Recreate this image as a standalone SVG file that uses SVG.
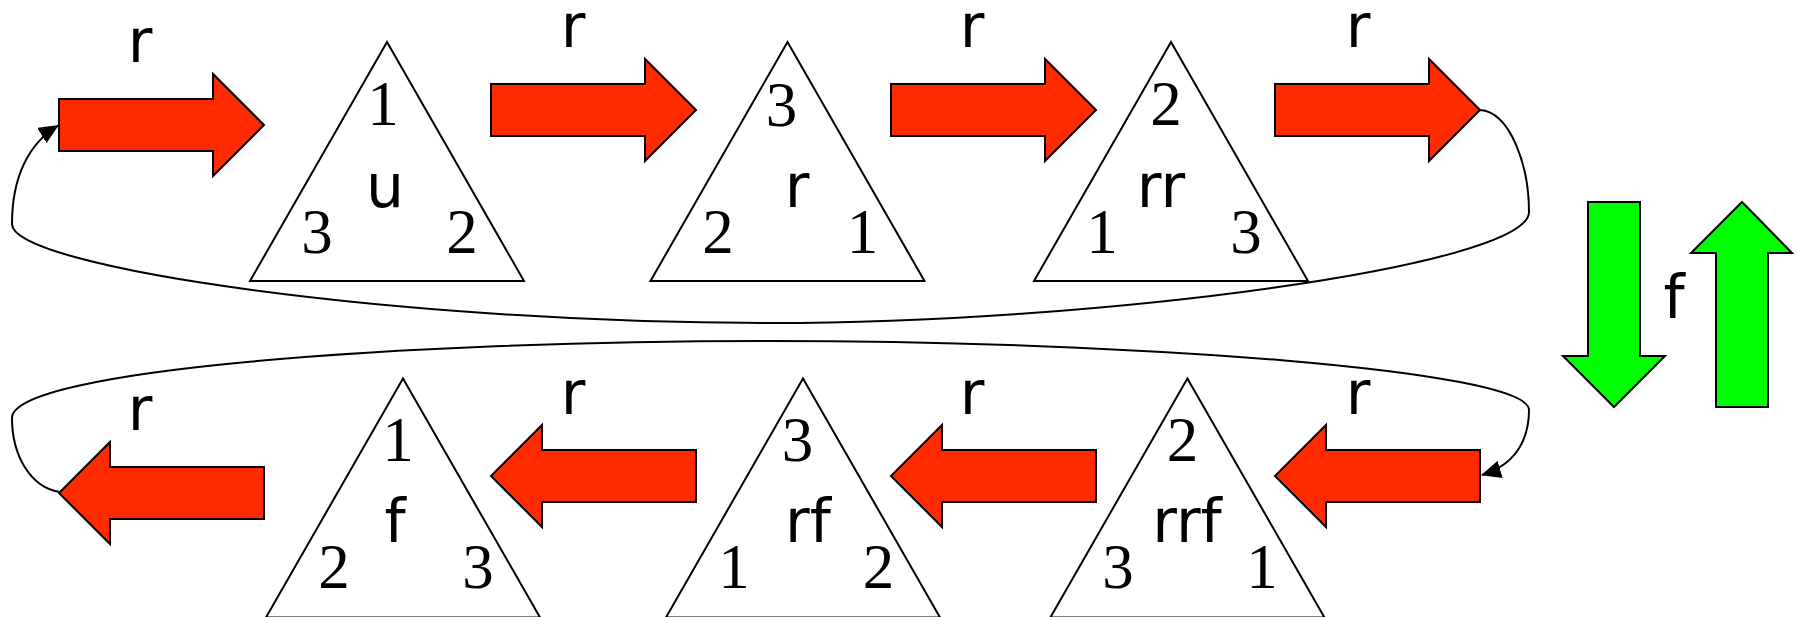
<svg xmlns="http://www.w3.org/2000/svg" width="1798" height="617" viewBox="0 0 1798 617">
<style>
.tri{fill:#fff;stroke:#000;stroke-width:2}
.num{font-family:"Liberation Serif","Times New Roman",serif;font-size:63px;fill:#000;text-anchor:middle}
.lab{font-family:"DejaVu Sans","Liberation Sans",sans-serif;font-size:60px;fill:#000;text-anchor:middle}
.red{fill:#FF2A00;stroke:#000;stroke-width:2;stroke-linejoin:miter}
.grn{fill:#00FF00;stroke:#000;stroke-width:2}
.con{fill:none;stroke:#000;stroke-width:2}
</style>
<defs>
<path id="arrR" d="M0,-26 H154 V-51 L205,0 L154,51 V26 H0 Z"/>
<path id="arrL" d="M205,-26 H51 V-51 L0,0 L51,51 V26 H205 Z"/>
<marker id="ah" viewBox="0 0 20 18" refX="19" refY="9" markerWidth="20" markerHeight="18" markerUnits="userSpaceOnUse" orient="auto">
<path d="M0,0 L20,9 L0,18 Z" fill="#000"/>
</marker>
</defs>
<g id="connectors">
<use href="#arrR" class="red" transform="translate(59,125)"/>
<use href="#arrR" class="red" transform="translate(491,110)"/>
<use href="#arrR" class="red" transform="translate(891,110)"/>
<use href="#arrR" class="red" transform="translate(1275,110)"/>
<use href="#arrL" class="red" transform="translate(59,493)"/>
<use href="#arrL" class="red" transform="translate(491,476)"/>
<use href="#arrL" class="red" transform="translate(891,476)"/>
<use href="#arrL" class="red" transform="translate(1275,476)"/>
<path class="con" marker-end="url(#ah)" d="M1480,110 C1510,112 1529,165 1529,212 C1529,266 1100,323 770,323 C400,323 12,268 12,224 C12,178 28,144 58,125.5"/>
<path class="con" marker-end="url(#ah)" d="M59.5,492 C30,487 12,455 12,418 C12,370 400,341 770,341 C1130,341 1529,370 1529,410 C1529,440 1515,465 1482,475"/>
<text class="lab" x="140" y="62">r</text>
<text class="lab" x="573" y="47">r</text>
<text class="lab" x="972" y="47">r</text>
<text class="lab" x="1358" y="47">r</text>
<text class="lab" x="140" y="430">r</text>
<text class="lab" x="573" y="414">r</text>
<text class="lab" x="972" y="414">r</text>
<text class="lab" x="1358" y="414">r</text>
</g>
<g id="flip">
<path class="grn" d="M1588,202 H1640 V356 H1665 L1614,407 L1563,356 H1588 Z"/>
<path class="grn" d="M1716,407 V253 H1691 L1742,202 L1792,253 H1768 V407 Z"/>
<text class="lab" x="1674" y="318">f</text>
</g>
<g id="node-u">
<polygon class="tri" points="387,42 524,281 250,281"/>
<text class="num" x="383" y="125">1</text>
<text class="lab" x="385" y="207">u</text>
<text class="num" x="317" y="253">3</text>
<text class="num" x="462" y="253">2</text>
</g>
<g id="node-r">
<polygon class="tri" points="787.5,42 924.5,281 650.5,281"/>
<text class="num" x="781.6" y="126">3</text>
<text class="lab" x="797" y="207">r</text>
<text class="num" x="718" y="253">2</text>
<text class="num" x="862.6" y="253">1</text>
</g>
<g id="node-rr">
<polygon class="tri" points="1171,42 1308,281 1034,281"/>
<text class="num" x="1166" y="125">2</text>
<text class="lab" x="1161" y="207">rr</text>
<text class="num" x="1102" y="253">1</text>
<text class="num" x="1246" y="253">3</text>
</g>
<g id="node-f">
<polygon class="tri" points="403,378.4 540,617.4 266,617.4"/>
<text class="num" x="398" y="461">1</text>
<text class="lab" x="395" y="542">f</text>
<text class="num" x="334" y="588">2</text>
<text class="num" x="478" y="588">3</text>
</g>
<g id="node-rf">
<polygon class="tri" points="803,378.4 940,617.4 666,617.4"/>
<text class="num" x="797.6" y="461">3</text>
<text class="lab" x="808" y="542">rf</text>
<text class="num" x="734" y="588">1</text>
<text class="num" x="878.6" y="588">2</text>
</g>
<g id="node-rrf">
<polygon class="tri" points="1187.4,378.4 1324.4,617.4 1050.4,617.4"/>
<text class="num" x="1182.5" y="461">2</text>
<text class="lab" x="1187" y="542">rrf</text>
<text class="num" x="1118" y="588">3</text>
<text class="num" x="1262" y="588">1</text>
</g>
</svg>
